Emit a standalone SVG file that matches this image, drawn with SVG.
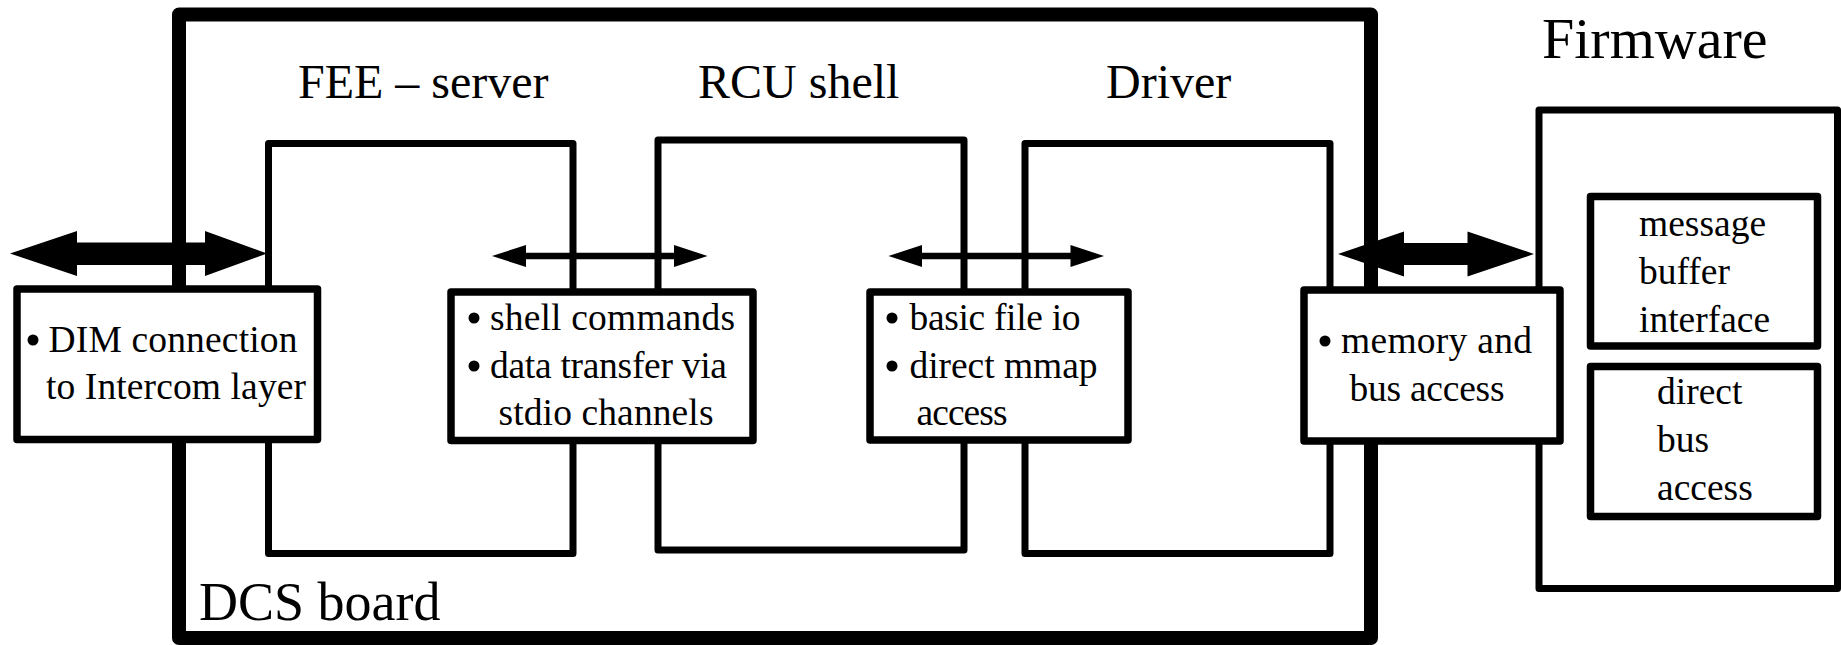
<svg xmlns="http://www.w3.org/2000/svg" width="1841" height="645" viewBox="0 0 1841 645">
  <style>
    .frame { fill: none; stroke: #000; stroke-width: 7; stroke-linejoin: round; }
    .board { fill: none; stroke: #000; stroke-width: 14; stroke-linejoin: round; }
    .box { fill: #fff; stroke: #000; stroke-width: 7.5; stroke-linejoin: round; }
    text { font-family: 'Liberation Serif', 'Times New Roman', serif; fill: #000; }
    .title { font-size: 48px; }
    .item { font-size: 37.5px; }
    .dot { fill: #000; }
    .arrow { fill: #000; stroke: none; }
  </style>

  <!-- outer board -->
  <g id="dcs-board">
    <rect class="board" x="179" y="14.5" width="1192" height="623.5"/>
    <text x="199" y="620" font-size="54">DCS board</text>
  </g>

  <!-- software layers on the board -->
  <g id="fee-server">
    <rect class="frame" x="268.5" y="143.5" width="304.5" height="410"/>
    <text class="title" x="298" y="98">FEE – server</text>
  </g>

  <g id="rcu-shell">
    <rect class="frame" x="658" y="140" width="306" height="410"/>
    <text class="title" x="698" y="98">RCU shell</text>
  </g>

  <g id="driver">
    <rect class="frame" x="1025" y="143.5" width="305" height="410"/>
    <text class="title" x="1106" y="98">Driver</text>
  </g>

  <!-- firmware side -->
  <g id="firmware">
    <rect class="frame" x="1539" y="110" width="298.5" height="478.5"/>
    <text x="1542" y="58" font-size="58">Firmware</text>
  </g>

  <g id="message-buffer-interface">
    <rect class="box" x="1590.5" y="196.5" width="227" height="149.5"/>
    <text class="item" x="1639" y="235.5">message</text>
    <text class="item" x="1639" y="283.5">buffer</text>
    <text class="item" x="1639" y="331.5">interface</text>
  </g>

  <g id="direct-bus-access">
    <rect class="box" x="1590.5" y="366.5" width="227" height="150"/>
    <text class="item" x="1657" y="404">direct</text>
    <text class="item" x="1657" y="451.5">bus</text>
    <text class="item" x="1657" y="499.5">access</text>
  </g>

  <!-- interface boxes on the layer boundaries -->
  <g id="dim-connection">
    <rect class="box" x="17" y="289" width="300.5" height="150.5"/>
    <circle class="dot" cx="33" cy="340" r="5.5"/>
    <text class="item" x="48.5" y="351.5" textLength="249">DIM connection</text>
    <text class="item" x="46" y="399" textLength="260">to Intercom layer</text>
  </g>

  <g id="shell-interface">
    <rect class="box" x="451" y="292" width="302" height="148.5"/>
    <circle class="dot" cx="474" cy="318" r="5.5"/>
    <circle class="dot" cx="474" cy="366" r="5.5"/>
    <text class="item" x="490" y="330" textLength="245">shell commands</text>
    <text class="item" x="490" y="378" textLength="237">data transfer via</text>
    <text class="item" x="498.5" y="425" textLength="215">stdio channels</text>
  </g>

  <g id="file-interface">
    <rect class="box" x="870" y="292" width="258" height="148"/>
    <circle class="dot" cx="892" cy="318" r="5.5"/>
    <circle class="dot" cx="892" cy="366" r="5.5"/>
    <text class="item" x="909.5" y="330" textLength="171">basic file io</text>
    <text class="item" x="909.5" y="378" textLength="188">direct mmap</text>
    <text class="item" x="916.5" y="425" textLength="91">access</text>
  </g>

  <g id="bus-interface">
    <rect class="box" x="1304" y="290" width="256" height="151"/>
    <circle class="dot" cx="1325" cy="341" r="5.5"/>
    <text class="item" x="1341" y="353" textLength="191">memory and</text>
    <text class="item" x="1349.5" y="400.5" textLength="155">bus access</text>
  </g>

  <!-- double-headed connectors -->
  <g id="connectors">
    <polygon class="arrow" points="10,253.5 77,231 77,242.5 205,242.5 205,231 267,253.5 205,276 205,265 77,265 77,276"/>
    <polygon class="arrow" points="492,256 526,245 526,252.7 674,252.7 674,245 707.5,256 674,267 674,259.3 526,259.3 526,267"/>
    <polygon class="arrow" points="888.5,256 922,245 922,252.7 1070.5,252.7 1070.5,245 1104,256 1070.5,267 1070.5,259.3 922,259.3 922,267"/>
    <polygon class="arrow" points="1338,254 1404,231.5 1404,243 1467.5,243 1467.5,231.5 1534,254 1467.5,276.5 1467.5,265 1404,265 1404,276.5"/>
  </g>
</svg>
